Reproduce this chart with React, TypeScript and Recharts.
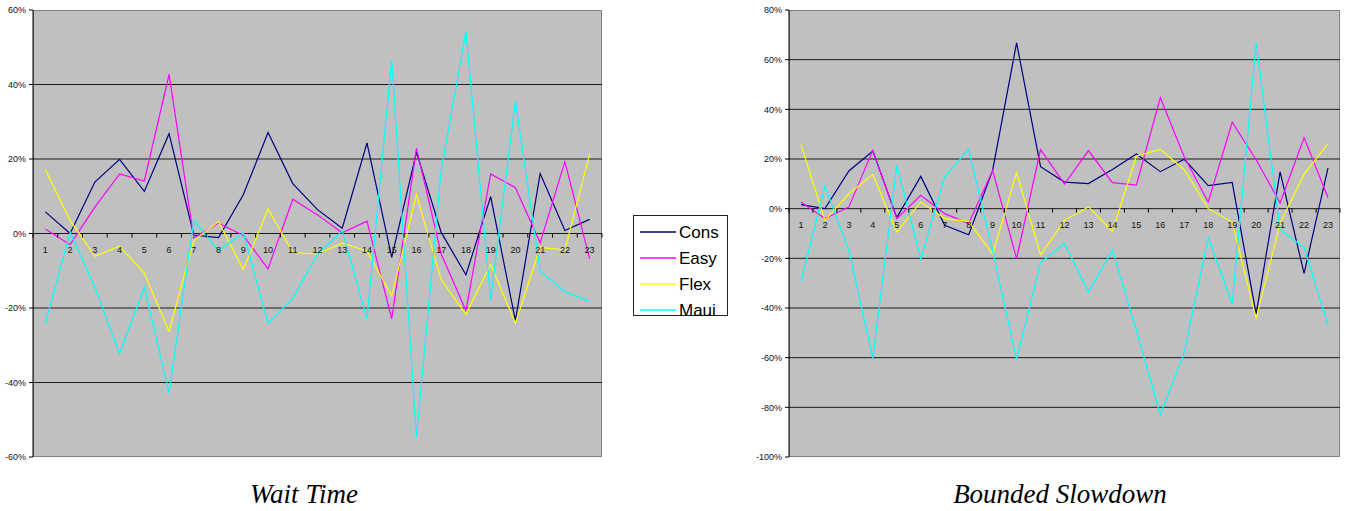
import React from 'react';
import { LineChart, Line, XAxis, YAxis, CartesianGrid } from 'recharts';

// Job index along the horizontal axis
const categories = ['1', '2', '3', '4', '5', '6', '7', '8', '9', '10', '11', '12', '13', '14', '15', '16', '17', '18', '19', '20', '21', '22', '23'];

const seriesNames = ['Cons', 'Easy', 'Flex', 'Maui'];
const seriesColors = ['#000080', '#FF00FF', '#FFFF00', '#00FFFF'];

// Wait Time (% difference)
const waitCons = [5.8, 0, 13.8, 19.9, 11.3, 26.8, -0.4, -1.1, 10.4, 27.1, 13.4, 6.4, 1.4, 24.3, -6.4, 21.8, 0.3, -11.1, 9.9, -23.4, 16.1, 0.8, 3.8];
const waitEasy = [1.2, -3.0, 7.1, 16.0, 14.1, 42.7, -1.2, 2.8, -0.5, -9.5, 9.2, 5.0, 0.2, 3.3, -22.9, 22.9, -5.5, -20.7, 16.0, 12.3, -2.5, 19.3, -6.8];
const waitFlex = [17.2, 3.5, -6.1, -3.4, -10.6, -26.3, -1.9, 3.2, -9.7, 6.6, -5.1, -5.5, -2.6, -4.7, -16.8, 10.4, -12.4, -21.7, -8.3, -24.1, -3.7, -4.4, 21.4];
const waitMaui = [-24.1, 0.3, -14.4, -32.3, -14.4, -42.8, 3.5, -4.6, 0.2, -24.1, -17.4, -5.5, 0.7, -22.9, 46.6, -54.7, 17.0, 54.2, -17.8, 35.5, -10.1, -15.6, -18.3];

// Bounded Slowdown (% difference)
const slowCons = [1.6, 0, 15.2, 23.2, -3.6, 13.0, -6.7, -10.5, 15.4, 66.8, 16.9, 10.7, 10.1, 15.8, 22.0, 14.9, 19.9, 9.3, 10.6, -42.5, 14.8, -26.1, 16.4];
const slowEasy = [2.7, -4.0, 0.7, 23.5, -4.0, 5.4, -2.0, -6.0, 15.4, -20.1, 23.8, 9.9, 23.4, 10.5, 9.5, 44.7, 20.8, 2.7, 34.8, 19.7, 2.3, 28.6, 4.4];
const slowFlex = [25.8, -4.7, 6.0, 13.8, -9.4, 2.7, -4.0, -5.1, -18.3, 14.5, -18.6, -4.7, 0.7, -9.1, 21.1, 23.9, 15.7, 0, -5.4, -44.2, -6.0, 13.8, 26.2];
const slowMaui = [-29.4, 9.1, -17.0, -60.2, 17.4, -20.3, 12.8, 23.9, -17.0, -60.7, -21.7, -14.0, -33.5, -16.7, -49.0, -83.0, -58.0, -11.6, -38.3, 66.8, -8.5, -15.6, -47.0];

// Y-axis ticks
const waitTicks = [-60, -40, -20, 0, 20, 40, 60];
const slowTicks = [-100, -80, -60, -40, -20, 0, 20, 40, 60, 80];

const buildRows = (cols: number[][]) =>
  categories.map((cat, i) => {
    const row: Record<string, string | number> = { cat };
    seriesNames.forEach((name, s) => {
      row[name] = cols[s][i];
    });
    return row;
  });

const waitRows = buildRows([waitCons, waitEasy, waitFlex, waitMaui]);
const slowRows = buildRows([slowCons, slowEasy, slowFlex, slowMaui]);

const AXIS_FONT = "Arial, 'Liberation Sans', sans-serif";

type PanelProps = {
  rows: Record<string, string | number>[];
  ticks: number[];
  left: number;
  width: number;
  yAxisWidth: number;
  rightMargin: number;
};

const CHART_H = 470;
const MARGIN_TOP = 10;
const X_AXIS_H = 13;

function Panel({ rows, ticks, left, width, yAxisWidth, rightMargin }: PanelProps) {
  const min = ticks[0];
  const max = ticks[ticks.length - 1];
  const plotW = width - yAxisWidth - rightMargin;
  const plotH = CHART_H - MARGIN_TOP - X_AXIS_H;
  const band = plotW / categories.length;
  const zeroOffset = MARGIN_TOP + (plotH * max) / (max - min);
  const gridValues = ticks.filter((t) => t !== min && t !== max);

  // Category labels sit just under the 0% line, with tick marks between categories
  const renderTick = (p: any) => {
    const { x, payload, index } = p;
    const zy = zeroOffset;
    return (
      <g>
        <line x1={x - band / 2} x2={x - band / 2} y1={zy} y2={zy + 4} stroke="#000" strokeWidth={1} />
        {index === categories.length - 1 && (
          <line x1={x + band / 2} x2={x + band / 2} y1={zy} y2={zy + 4} stroke="#000" strokeWidth={1} />
        )}
        <text x={x} y={zy + 19} textAnchor="middle" fontSize={9} fontFamily={AXIS_FONT} fill="#111">
          {payload.value}
        </text>
      </g>
    );
  };

  return (
    <div style={{ position: 'absolute', left, top: 0, width, height: CHART_H }}>
      <div
        style={{
          position: 'absolute',
          left: yAxisWidth,
          top: MARGIN_TOP,
          width: plotW,
          height: plotH,
          background: '#C0C0C0',
          border: '1px solid #808080',
          boxSizing: 'border-box',
        }}
      />
      <div style={{ position: 'absolute', left: 0, top: 0 }}>
        <LineChart
          width={width}
          height={CHART_H}
          data={rows}
          margin={{ top: MARGIN_TOP, right: rightMargin, bottom: 0, left: 0 }}
        >
          <CartesianGrid
            vertical={false}
            horizontalValues={gridValues}
            stroke="#1a1a1a"
            strokeWidth={1}
          />
          <XAxis
            dataKey="cat"
            type="category"
            scale="point"
            padding={{ left: band / 2, right: band / 2 }}
            height={X_AXIS_H}
            axisLine={false}
            tickLine={false}
            interval={0}
            tick={renderTick}
          />
          <YAxis
            type="number"
            domain={[min, max]}
            ticks={ticks}
            interval={0}
            width={yAxisWidth}
            tickFormatter={(v: number) => `${v}%`}
            axisLine={{ stroke: '#000', strokeWidth: 1 }}
            tickLine={{ stroke: '#000' }}
            tickSize={4}
            tickMargin={3}
            tick={{ fontSize: 9, fontFamily: AXIS_FONT, fill: '#111' }}
          />
          {seriesNames.map((name, s) => (
            <Line
              key={name}
              type="linear"
              dataKey={name}
              stroke={seriesColors[s]}
              strokeWidth={1.2}
              dot={false}
              activeDot={false}
              isAnimationActive={false}
            />
          ))}
        </LineChart>
      </div>
    </div>
  );
}

function Legend() {
  const rowY = [232, 258, 284, 310];
  return (
    <g>
      <rect x={633.5} y={215.5} width={94} height={100} fill="#fff" stroke="#222" strokeWidth={1} />
      {seriesNames.map((name, s) => (
        <g key={name}>
          <line x1={640} x2={676} y1={rowY[s]} y2={rowY[s]} stroke={seriesColors[s]} strokeWidth={1.5} />
          <text x={679} y={rowY[s] + 6} fontSize={17} fontFamily={AXIS_FONT} fill="#000">
            {name}
          </text>
        </g>
      ))}
    </g>
  );
}

export default function App() {
  return (
    <div style={{ position: 'absolute', left: 0, top: 0, width: 1346, height: 511, background: '#fff' }}>
      <Panel rows={waitRows} ticks={waitTicks} left={0} width={610} yAxisWidth={33} rightMargin={8} />
      <Panel rows={slowRows} ticks={slowTicks} left={750} width={596} yAxisWidth={39} rightMargin={6} />
      <svg
        width={1346}
        height={511}
        style={{ position: 'absolute', left: 0, top: 0, pointerEvents: 'none' }}
      >
        <Legend />
        <text
          x={304}
          y={503}
          textAnchor="middle"
          fontSize={27}
          fontStyle="italic"
          fontFamily="'Liberation Serif', 'Times New Roman', serif"
          fill="#000"
        >
          Wait Time
        </text>
        <text
          x={1060}
          y={503}
          textAnchor="middle"
          fontSize={27}
          fontStyle="italic"
          fontFamily="'Liberation Serif', 'Times New Roman', serif"
          fill="#000"
        >
          Bounded Slowdown
        </text>
      </svg>
    </div>
  );
}
